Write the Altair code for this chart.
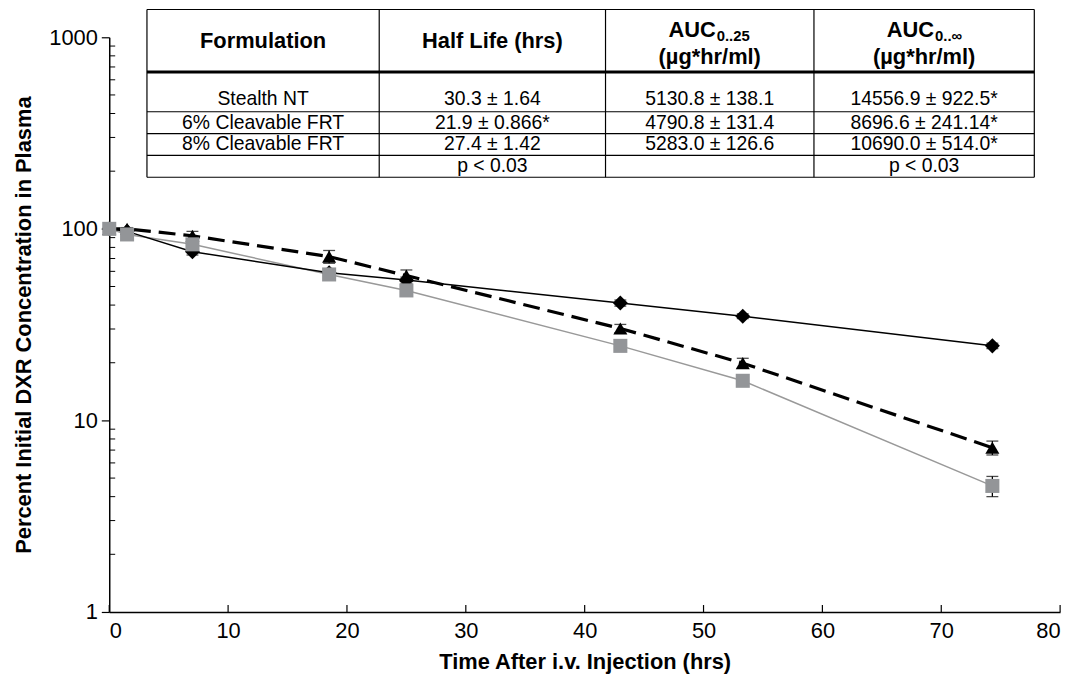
import altair as alt
import pandas as pd

# ---------------- data ----------------
time_hrs = [0, 1.5, 7, 18.5, 25, 43, 53.3, 74.3]
stealth_nt = [100, 97, 76, 59, 54, 41, 35, 24.5]
stealth_err = [0, 1.5, 3, 2, 2, 1.5, 1, 0.8]
frt8 = [100, 100, 92, 71.6, 57, 30.2, 19.9, 7.2]
frt8_err = [0, 1.5, 5, 5.5, 4, 1.5, 1.2, 0.6]
frt6 = [100, 93.5, 83, 57.8, 47.7, 24.5, 16.1, 4.55]
frt6_err = [0, 1.5, 3, 2, 1.5, 1, 0.8, 0.55]

x_ticks = [0, 10, 20, 30, 40, 50, 60, 70, 80]
y_ticks = [1, 10, 100, 1000]
y_minor = [2, 3, 4, 5, 6, 7, 8, 9, 20, 30, 40, 50, 60, 70, 80, 90,
           200, 300, 400, 500, 600, 700, 800, 900]

table_header = ["Formulation", "Half Life (hrs)", "AUC", "AUC"]
table_header_sub = ["", "", "0..25", "0..\u221e"]
table_units = ["", "", "(\u00b5g*hr/ml)", "(\u00b5g*hr/ml)"]
table_rows = [
    ["Stealth NT", "30.3 \u00b1 1.64", "5130.8 \u00b1 138.1", "14556.9 \u00b1 922.5*"],
    ["6% Cleavable FRT", "21.9 \u00b1 0.866*", "4790.8 \u00b1 131.4", "8696.6 \u00b1 241.14*"],
    ["8% Cleavable FRT", "27.4 \u00b1 1.42", "5283.0 \u00b1 126.6", "10690.0 \u00b1 514.0*"],
    ["", "p < 0.03", "", "p < 0.03"],
]

# ---------------- layout constants (pixels) ----------------
W, H = 958, 579
FONT = "Liberation Sans"
col_edges = [38, 272, 500, 710, 932]
row_lines = [-28, 35, 75, 97, 119, 141]
row_text_y = [62, 86, 108, 130]

series = []
for name, vals, errs in [("stealth", stealth_nt, stealth_err),
                         ("frt8", frt8, frt8_err),
                         ("frt6", frt6, frt6_err)]:
    for t, v, e in zip(time_hrs, vals, errs):
        series.append({"series": name, "t": t, "v": v, "lo": v - e, "hi": v + e})
df = pd.DataFrame(series)

xs = alt.Scale(domain=[0, 80], nice=False)
ys = alt.Scale(type="log", domain=[1, 1000], nice=False)

X = alt.X("t:Q", scale=xs,
          axis=alt.Axis(title="Time After i.v. Injection (hrs)", values=x_ticks,
                        ticks=False, labelPadding=9, titlePadding=10))
Y = alt.Y("v:Q", scale=ys,
          axis=alt.Axis(title="Percent Initial DXR Concentration in Plasma",
                        values=y_ticks, format="d", tickSize=8, labelPadding=4,
                        titlePadding=13))

base = alt.Chart(df)

line_st = base.transform_filter("datum.series == 'stealth'").mark_line(
    color="black", strokeWidth=1.5).encode(x=X, y=Y)
line_8 = base.transform_filter("datum.series == 'frt8'").mark_line(
    color="black", strokeWidth=3.2, strokeDash=[17, 8]).encode(x=X, y=Y)
line_6 = base.transform_filter("datum.series == 'frt6'").mark_line(
    color="#999999", strokeWidth=1.5).encode(x=X, y=Y)

err_rule = base.transform_filter("datum.hi > datum.lo").mark_rule(
    color="black", strokeWidth=1.3).encode(x="t:Q", y="lo:Q", y2="hi:Q")
cap_lo = base.transform_filter("datum.hi > datum.lo").mark_tick(
    color="black", orient="horizontal", size=12, thickness=1.3).encode(x="t:Q", y="lo:Q")
cap_hi = base.transform_filter("datum.hi > datum.lo").mark_tick(
    color="black", orient="horizontal", size=12, thickness=1.3).encode(x="t:Q", y="hi:Q")

pt_st = base.transform_filter("datum.series == 'stealth'").mark_point(
    shape="diamond", filled=True, color="black", size=230, opacity=1).encode(x="t:Q", y="v:Q")
pt_8 = base.transform_filter("datum.series == 'frt8'").mark_point(
    shape="triangle-up", filled=True, color="black", size=200, opacity=1).encode(x="t:Q", y="v:Q")
pt_6 = base.transform_filter("datum.series == 'frt6'").mark_point(
    shape="square", filled=True, color="#939598", size=200, opacity=1).encode(x="t:Q", y="v:Q")

# axis minor ticks (inside) and x ticks (inside)
minor_df = pd.DataFrame({"m": y_minor})
minor = alt.Chart(minor_df).mark_rule(color="black", strokeWidth=1).encode(
    y=alt.Y("m:Q", scale=ys), x=alt.value(0), x2=alt.value(6))
xt_df = pd.DataFrame({"xt": x_ticks})
xtk = alt.Chart(xt_df).mark_rule(color="black", strokeWidth=1.2).encode(
    x=alt.X("xt:Q", scale=xs), y=alt.value(H), y2=alt.value(H - 7))

# ---------------- table ----------------
tl = []
for i, yv in enumerate(row_lines):
    tl.append({"x1": col_edges[0], "x2": col_edges[-1], "y1": yv, "y2": yv,
               "w": 3 if i == 1 else 1.2})
for xv in col_edges:
    tl.append({"x1": xv, "x2": xv, "y1": row_lines[0], "y2": row_lines[-1], "w": 1.2})
tl_df = pd.DataFrame(tl)
tbl_lines = alt.Chart(tl_df).mark_rule(color="black").encode(
    x=alt.X("x1:Q", scale=None), x2="x2:Q",
    y=alt.Y("y1:Q", scale=None), y2="y2:Q",
    strokeWidth=alt.StrokeWidth("w:Q", scale=None, legend=None))

centers = [(col_edges[i] + col_edges[i + 1]) / 2 for i in range(4)]
cells = []
for r, row in enumerate(table_rows):
    for c, txt in enumerate(row):
        if txt:
            cells.append({"x": centers[c], "y": row_text_y[r], "txt": txt})
cells_df = pd.DataFrame(cells)
tbl_body = alt.Chart(cells_df).mark_text(font=FONT, fontSize=19.5, color="black",
                                         align="center", baseline="middle").encode(
    x=alt.X("x:Q", scale=None), y=alt.Y("y:Q", scale=None), text="txt:N")

hdr1 = pd.DataFrame([{"x": centers[0], "y": 4, "txt": table_header[0]},
                     {"x": centers[1], "y": 4, "txt": table_header[1]}])
tbl_hdr1 = alt.Chart(hdr1).mark_text(font=FONT, fontSize=22, fontWeight="bold",
                                     color="black", align="center", baseline="middle").encode(
    x=alt.X("x:Q", scale=None), y=alt.Y("y:Q", scale=None), text="txt:N")

auc = pd.DataFrame([{"x": centers[2] + 6, "y": -7, "txt": table_header[2]},
                    {"x": centers[3] + 10, "y": -7, "txt": table_header[3]}])
tbl_auc = alt.Chart(auc).mark_text(font=FONT, fontSize=22, fontWeight="bold",
                                   color="black", align="right", baseline="middle").encode(
    x=alt.X("x:Q", scale=None), y=alt.Y("y:Q", scale=None), text="txt:N")
sub = pd.DataFrame([{"x": centers[2] + 7, "y": -1, "txt": table_header_sub[2]},
                    {"x": centers[3] + 11, "y": -1, "txt": table_header_sub[3]}])
tbl_sub = alt.Chart(sub).mark_text(font=FONT, fontSize=15, fontWeight="bold",
                                   color="black", align="left", baseline="middle").encode(
    x=alt.X("x:Q", scale=None), y=alt.Y("y:Q", scale=None), text="txt:N")
units = pd.DataFrame([{"x": centers[2], "y": 20, "txt": table_units[2]},
                      {"x": centers[3], "y": 20, "txt": table_units[3]}])
tbl_units = alt.Chart(units).mark_text(font=FONT, fontSize=22, fontWeight="bold",
                                       color="black", align="center", baseline="middle").encode(
    x=alt.X("x:Q", scale=None), y=alt.Y("y:Q", scale=None), text="txt:N")

chart = alt.layer(
    minor, xtk, line_6, line_st, line_8, err_rule, cap_lo, cap_hi, pt_st, pt_8, pt_6,
    tbl_lines, tbl_body, tbl_hdr1, tbl_auc, tbl_sub, tbl_units
).properties(
    width=W, height=H,
    autosize=alt.AutoSizeParams(type="none"),
    padding={"left": 102, "top": 27, "right": 15, "bottom": 62},
).configure_view(stroke=None).configure_axis(
    grid=False, domainColor="black", domainWidth=1.5, tickColor="black", tickWidth=1.2,
    labelFont=FONT, labelFontSize=22, labelColor="black",
    titleFont=FONT, titleFontSize=22, titleFontWeight="bold", titleColor="black",
)

chart.save("out.html", embed_options={"renderer": "svg", "actions": False})
